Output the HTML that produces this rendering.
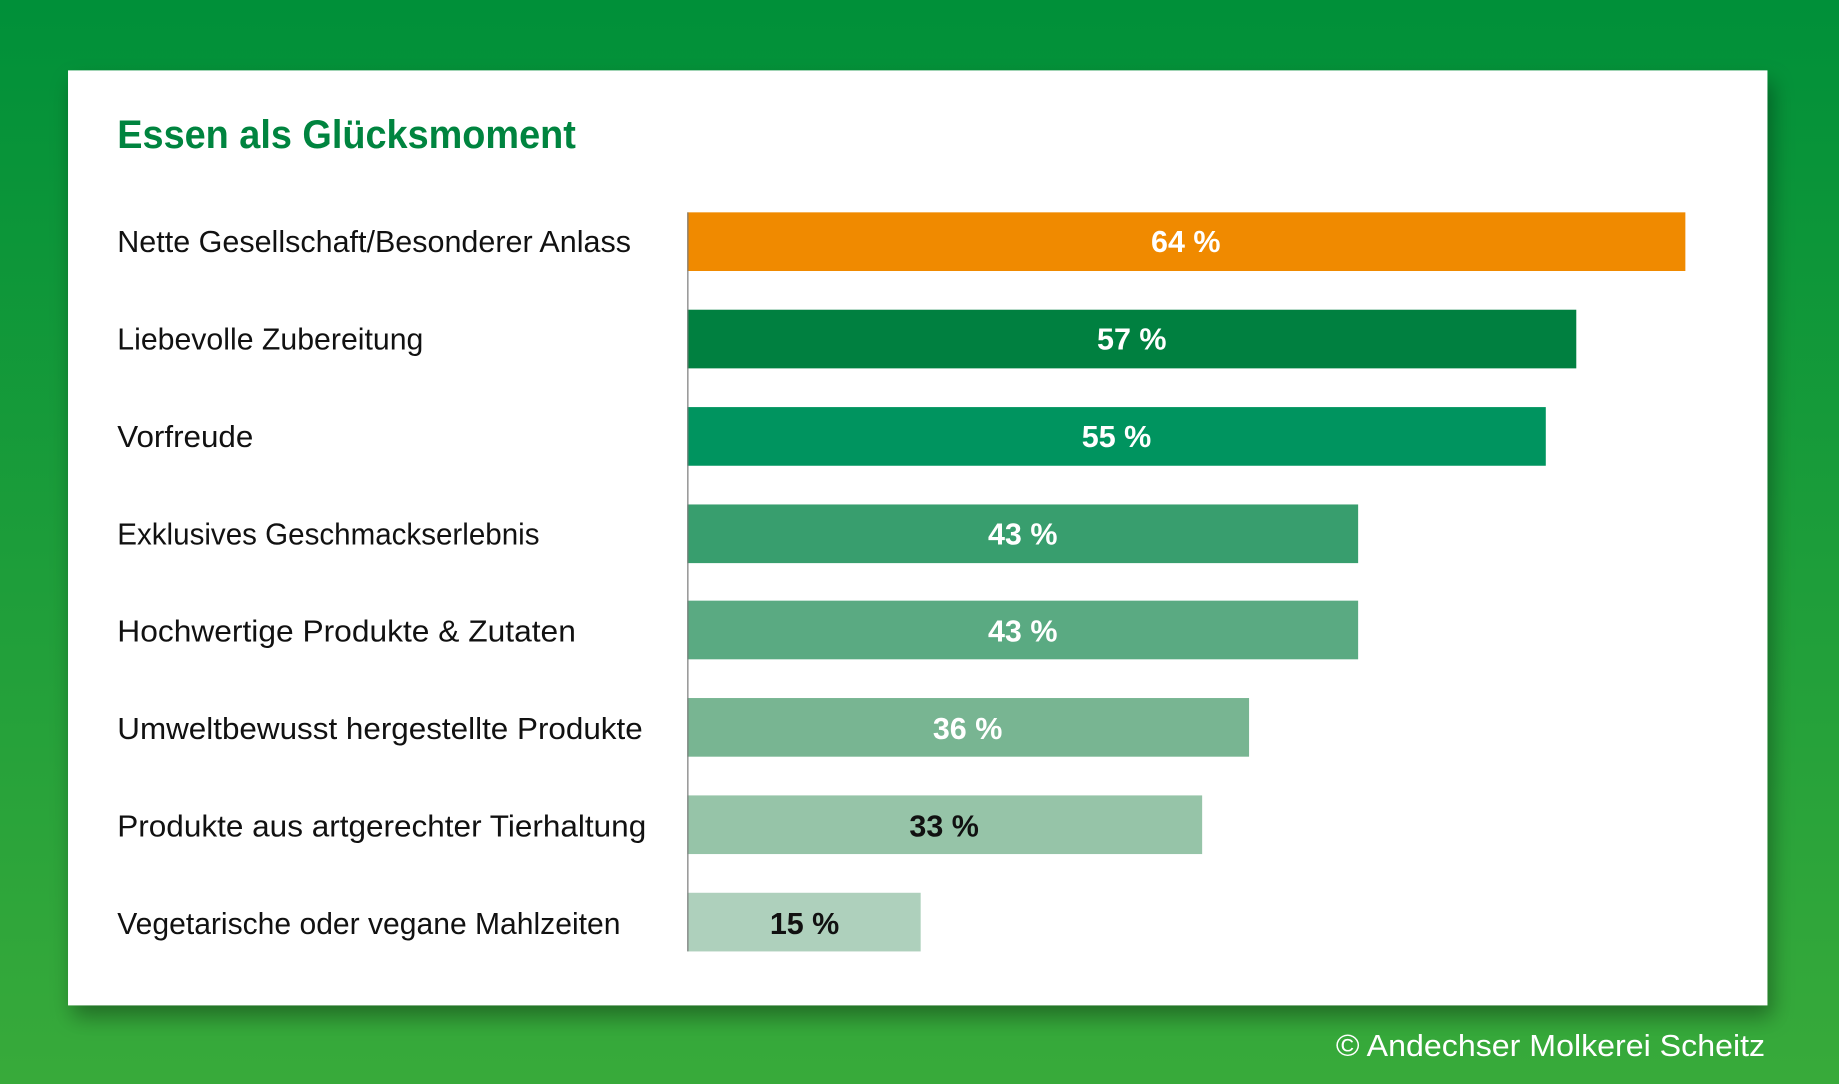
<!DOCTYPE html>
<html><head><meta charset="utf-8"><style>
html,body{margin:0;padding:0;width:1839px;height:1084px;overflow:hidden}
svg{display:block}
</style></head><body>
<svg width="1839" height="1084" viewBox="0 0 1568 924" preserveAspectRatio="none" xmlns="http://www.w3.org/2000/svg">
<defs>
<linearGradient id="bg" x1="0" y1="0" x2="0" y2="1">
<stop offset="0" stop-color="#009039"/><stop offset="1" stop-color="#38aa3a"/>
</linearGradient>
<filter id="sh" x="-10%" y="-10%" width="120%" height="130%"><feDropShadow dx="4" dy="10" stdDeviation="9" flood-color="#000" flood-opacity="0.35"/></filter>
</defs>
<rect width="1568" height="924" fill="url(#bg)"/>
<rect x="58" y="60" width="1449" height="797" fill="#fff" filter="url(#sh)"/>
<g font-family="Liberation Sans, sans-serif">
<text x="100" y="126" font-size="34" font-weight="bold" fill="#00843f" textLength="391" lengthAdjust="spacingAndGlyphs">Essen als Glücksmoment</text>
<g font-size="26" fill="#111">
<text x="100" y="215" textLength="438" lengthAdjust="spacingAndGlyphs">Nette Gesellschaft/Besonderer Anlass</text>
<text x="100" y="298" textLength="261" lengthAdjust="spacingAndGlyphs">Liebevolle Zubereitung</text>
<text x="100" y="381" textLength="116" lengthAdjust="spacingAndGlyphs">Vorfreude</text>
<text x="100" y="464" textLength="360" lengthAdjust="spacingAndGlyphs">Exklusives Geschmackserlebnis</text>
<text x="100" y="547" textLength="391" lengthAdjust="spacingAndGlyphs">Hochwertige Produkte &amp; Zutaten</text>
<text x="100" y="630" textLength="448" lengthAdjust="spacingAndGlyphs">Umweltbewusst hergestellte Produkte</text>
<text x="100" y="713" textLength="451" lengthAdjust="spacingAndGlyphs">Produkte aus artgerechter Tierhaltung</text>
<text x="100" y="796" textLength="429" lengthAdjust="spacingAndGlyphs">Vegetarische oder vegane Mahlzeiten</text>
</g>
<rect x="586" y="181" width="851" height="50" fill="#f08a00"/>
<rect x="586" y="264" width="758" height="50" fill="#008040"/>
<rect x="586" y="347" width="732" height="50" fill="#00945f"/>
<rect x="586" y="430" width="572" height="50" fill="#389e6e"/>
<rect x="586" y="512" width="572" height="50" fill="#5aaa82"/>
<rect x="586" y="595" width="479" height="50" fill="#78b592"/>
<rect x="586" y="678" width="439" height="50" fill="#96c4a8"/>
<rect x="586" y="761" width="199" height="50" fill="#aed0bc"/>
<line x1="586.5" y1="181" x2="586.5" y2="811" stroke="#777" stroke-width="1"/>
<g font-size="26" font-weight="bold" text-anchor="middle" fill="#fff">
<text x="1011" y="215">64 %</text>
<text x="965" y="298">57 %</text>
<text x="952" y="381">55 %</text>
<text x="872" y="464">43 %</text>
<text x="872" y="547">43 %</text>
<text x="825" y="630">36 %</text>
<text x="805" y="713" fill="#111">33 %</text>
<text x="686" y="796" fill="#111">15 %</text>
</g>
<text x="1505" y="900" font-size="26" fill="#fff" text-anchor="end" textLength="366" lengthAdjust="spacingAndGlyphs">© Andechser Molkerei Scheitz</text>
</g>
</svg>
</body></html>
